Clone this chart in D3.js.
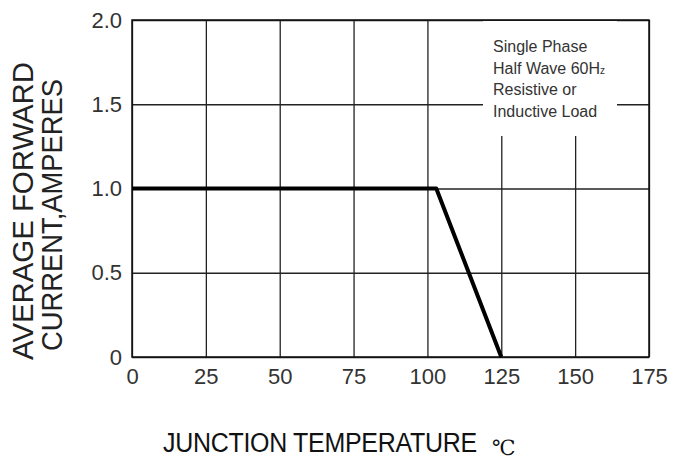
<!DOCTYPE html>
<html>
<head>
<meta charset="utf-8">
<script src="https://cdn.jsdelivr.net/npm/d3@7"></script>
<style>
body { margin: 0; background: #fff; }
svg { display: block; font-family: "Liberation Sans", Arial, sans-serif; }
.grid line { stroke: #222; stroke-width: 1.3; }
.grid path { display: none; }
.tick text { fill: #333; font-size: 22px; }
</style>
</head>
<body>
<div id="chart"></div>
<script>
// values
var tempTicks = [0, 25, 50, 75, 100, 125, 150, 175];
var currentTicks = [0, 0.5, 1.0, 1.5, 2.0];
var currentTickLabels = ["0", "0.5", "1.0", "1.5", "2.0"];
var curveTemp = [0, 103, 125];
var curveCurrent = [1.0, 1.0, 0];
var noteLines = ["Single Phase", "Half Wave 60H", "Resistive or", "Inductive Load"];

var W = 674, H = 459;
var margin = {top: 20, right: 25, bottom: 102, left: 132};
var w = W - margin.left - margin.right;
var h = H - margin.top - margin.bottom;

var svg = d3.select("#chart").append("svg")
	.attr("width", W)
	.attr("height", H);

var x = d3.scaleLinear().domain([0, 175]).range([0, w]);
var y = d3.scaleLinear().domain([0, 2]).range([h, 0]);

var chart = svg.append("g")
	.attr("transform", "translate(" + margin.left + "," + margin.top + ")");

var xAxis = d3.axisBottom(x).tickValues(tempTicks).tickSize(-h).tickPadding(11)
	.tickFormat(function(d) { return d; });
var yAxis = d3.axisLeft(y).tickValues(currentTicks).tickSize(-w).tickPadding(10)
	.tickFormat(function(d, i) { return currentTickLabels[i]; });

chart.append("g")
	.attr("class", "grid")
	.attr("transform", "translate(0," + h + ")")
	.call(xAxis);

chart.append("g")
	.attr("class", "grid")
	.call(yAxis);

// white patch behind the note, hides part of the grid
chart.append("rect")
	.attr("x", 351)
	.attr("y", 1)
	.attr("width", 134)
	.attr("height", 115)
	.attr("fill", "#fff");

// frame
chart.append("rect")
	.attr("width", w)
	.attr("height", h)
	.attr("fill", "none")
	.attr("stroke", "#111")
	.attr("stroke-width", 1.5);

var note = chart.append("text")
	.attr("x", 361)
	.attr("y", 32)
	.attr("fill", "#333")
	.style("font-size", "16px");
noteLines.forEach(function(t, i) {
	note.append("tspan")
		.attr("x", 361)
		.attr("dy", i == 0 ? 0 : 21.7)
		.text(t);
	if (i == 1) {
		note.append("tspan").style("font-size", "10px").text("z");
	}
});

var line = d3.line()
	.x(function(d, i) { return x(curveTemp[i]); })
	.y(function(d, i) { return y(curveCurrent[i]); });

chart.append("path")
	.datum(curveTemp)
	.attr("d", line)
	.attr("fill", "none")
	.attr("stroke", "#000")
	.attr("stroke-width", 4)
	.attr("stroke-linejoin", "round");

// y title
svg.append("text")
	.attr("transform", "translate(33,211) rotate(-90)")
	.attr("text-anchor", "middle")
	.attr("fill", "#222")
	.attr("textLength", 298)
	.attr("lengthAdjust", "spacingAndGlyphs")
	.style("font-size", "29px")
	.text("AVERAGE FORWARD");

svg.append("text")
	.attr("transform", "translate(62,215) rotate(-90)")
	.attr("text-anchor", "middle")
	.attr("fill", "#222")
	.attr("textLength", 272)
	.attr("lengthAdjust", "spacingAndGlyphs")
	.style("font-size", "29px")
	.text("CURRENT,AMPERES");

// x title
svg.append("text")
	.attr("transform", "translate(163,452) scale(1,1.12)")
	.attr("fill", "#111")
	.attr("letter-spacing", "-0.3")
	.style("font-size", "25px")
	.text("JUNCTION TEMPERATURE");

svg.append("text")
	.attr("x", 492)
	.attr("y", 455)
	.attr("fill", "#111")
	.style("font-size", "21px")
	.style("font-family", "'DejaVu Serif', serif")
	.text("\u2103");
</script>
</body>
</html>
